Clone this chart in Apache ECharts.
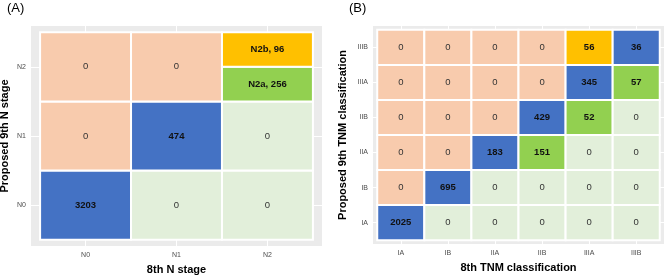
<!DOCTYPE html>
<html lang="en">
<head>
    <meta charset="UTF-8"/>
    <title>N stage / TNM reclassification</title>
    <script src="https://cdn.jsdelivr.net/npm/echarts@6/dist/echarts.min.js"></script>
    <style>
        html, body { margin: 0; padding: 0; background: #fff; }
        #main { width: 669px; height: 277px; }
    </style>
</head>
<body>
<div id="main"></div>
<script>
    // (A) 8th N stage (x) vs proposed 9th N stage (y)
    var stagesA = ['N0', 'N1', 'N2'];
    // rows = 9th stage from bottom (N0) to top (N2), cols = 8th stage
    var countsA = [
        [3203, 0, 0],
        [0, 474, 0],
        [0, 0, null]      // N2 / N2 cell is split below
    ];
    var splitNamesA = ['N2a', 'N2b'];   // lower half, upper half
    var splitCountsA = [256, 96];

    // (B) 8th TNM (x) vs proposed 9th TNM (y)
    var stagesB = ['IA', 'IB', 'IIA', 'IIB', 'IIIA', 'IIIB'];
    var countsB = [
        [2025, 0, 0, 0, 0, 0],
        [0, 695, 0, 0, 0, 0],
        [0, 0, 183, 151, 0, 0],
        [0, 0, 0, 429, 52, 0],
        [0, 0, 0, 0, 345, 57],
        [0, 0, 0, 0, 56, 36]
    ];

    var COL = {
        same: '#4472C4',
        up: '#FFC000',
        upZero: '#F8CBAD',
        down: '#92D050',
        downZero: '#E2EFDA'
    };
    var FONT = 'Liberation Sans, Arial, Helvetica, sans-serif';

    function kindOf(x, y, n) {
        if (x === y) return 'same';
        if (x < y) return n > 0 ? 'up' : 'upZero';
        return n > 0 ? 'down' : 'downZero';
    }

    // tiles: value = [x, yLow, yHigh, count], plus label + colour key
    function buildTiles(counts) {
        var out = [];
        for (var r = 0; r < counts.length; r++) {
            for (var c = 0; c < counts[r].length; c++) {
                var n = counts[r][c];
                if (n === null) continue;
                out.push({value: [c, r - 0.5, r + 0.5, n], label: String(n), kind: kindOf(c, r, n)});
            }
        }
        return out;
    }

    var tilesA = buildTiles(countsA);
    // split N2/N2 cell: lower half N2a (green), upper half N2b (orange)
    for (var i = 0; i < splitNamesA.length; i++) {
        tilesA.push({
            value: [2, 1.5 + i * 0.5, 2 + i * 0.5, splitCountsA[i]],
            label: splitNamesA[i] + ', ' + splitCountsA[i],
            kind: i === 0 ? 'down' : 'up'
        });
    }
    var tilesB = buildTiles(countsB);

    function makeRender(tiles) {
        return function (params, api) {
            var t = tiles[params.dataIndex];
            var x = api.value(0), y0 = api.value(1), y1 = api.value(2);
            var p0 = api.coord([x - 0.5, y1]);
            var p1 = api.coord([x + 0.5, y0]);
            var zero = api.value(3) === 0;
            return {
                type: 'group',
                children: [{
                    type: 'rect',
                    shape: {x: p0[0], y: p0[1], width: p1[0] - p0[0], height: p1[1] - p0[1]},
                    style: {fill: COL[t.kind], stroke: '#ffffff', lineWidth: 2}
                }, {
                    type: 'text',
                    style: {
                        x: (p0[0] + p1[0]) / 2,
                        y: (p0[1] + p1[1]) / 2,
                        text: t.label,
                        align: 'center',
                        verticalAlign: 'middle',
                        fill: zero ? '#333333' : '#111111',
                        fontFamily: FONT,
                        fontSize: 9.5,
                        fontWeight: zero ? 'normal' : 'bold'
                    }
                }]
            };
        };
    }

    function ticks(n) {
        var v = [];
        for (var k = 0; k < n; k++) v.push(k);
        return v;
    }

    function makeAxis(dim, gridIndex, names, pad, title, gap) {
        return {
            type: 'value',
            gridIndex: gridIndex,
            min: -0.5 - pad,
            max: names.length - 0.5 + pad,
            axisLine: {show: false},
            splitLine: {show: true, lineStyle: {color: '#ffffff', width: 1}},
            axisTick: {
                show: true, customValues: ticks(names.length), length: 3,
                lineStyle: {color: '#444444', width: 1}
            },
            axisLabel: {
                customValues: ticks(names.length),
                formatter: function (v) { return names[Math.round(v)]; },
                fontFamily: FONT, fontSize: 7, color: '#4D4D4D', margin: dim === 'x' ? 6 : 5
            },
            name: title,
            nameLocation: 'middle',
            nameGap: gap,
            nameRotate: dim === 'y' ? 90 : 0,
            nameTextStyle: {fontFamily: FONT, fontSize: 11, fontWeight: 'bold', color: '#000000'}
        };
    }

    var chart = echarts.init(document.getElementById('main'), null, {renderer: 'canvas'});
    chart.setOption({
        animation: false,
        backgroundColor: '#ffffff',
        title: [
            {text: '(A)', left: 7, top: 2, padding: 0,
                textStyle: {fontFamily: FONT, fontSize: 13, fontWeight: 'normal', color: '#000'}},
            {text: '(B)', left: 349, top: 2, padding: 0,
                textStyle: {fontFamily: FONT, fontSize: 13, fontWeight: 'normal', color: '#000'}}
        ],
        grid: [
            {left: 31, top: 26, width: 291, height: 220, show: true, backgroundColor: '#EBEBEB',
                borderWidth: 0, containLabel: false, outerBoundsMode: 'none'},
            {left: 373, top: 26, width: 291, height: 218, show: true, backgroundColor: '#EBEBEB',
                borderWidth: 0, containLabel: false, outerBoundsMode: 'none'}
        ],
        xAxis: [
            makeAxis('x', 0, stagesA, 0.1, '8th N stage', 18),
            makeAxis('x', 1, stagesB, 0.09, '8th TNM classification', 18)
        ],
        yAxis: [
            makeAxis('y', 0, stagesA, 0.09, 'Proposed 9th N stage', 21),
            makeAxis('y', 1, stagesB, 0.11, 'Proposed 9th TNM classification', 25)
        ],
        series: [{
            type: 'custom',
            xAxisIndex: 0, yAxisIndex: 0,
            renderItem: makeRender(tilesA),
            encode: {x: 0, y: [1, 2]},
            data: tilesA
        }, {
            type: 'custom',
            xAxisIndex: 1, yAxisIndex: 1,
            renderItem: makeRender(tilesB),
            encode: {x: 0, y: [1, 2]},
            data: tilesB
        }]
    });
</script>
</body>
</html>
